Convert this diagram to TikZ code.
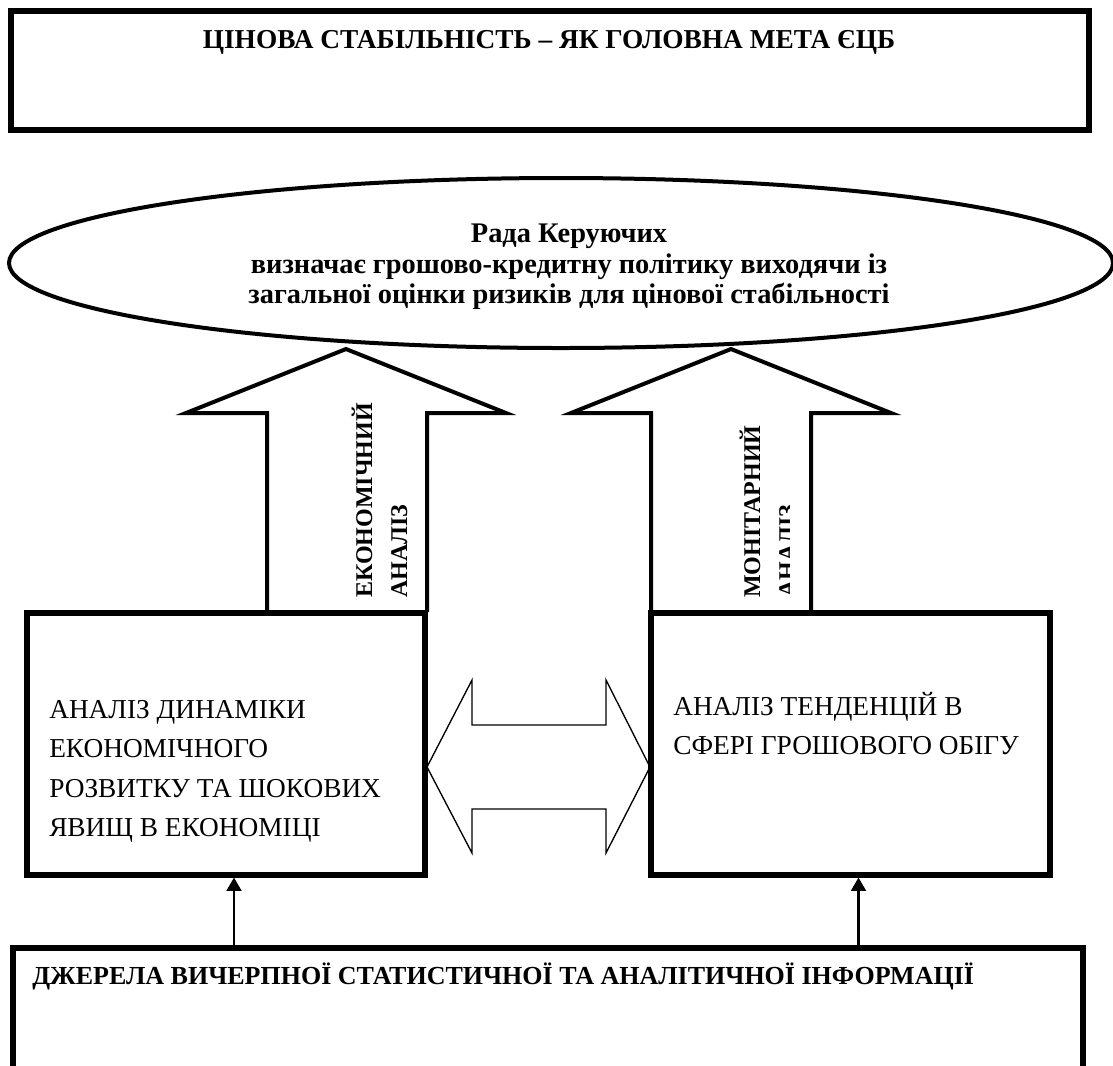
\documentclass[tikz,border=0pt]{standalone}
\usepackage{fontspec}
\setmainfont{Liberation Serif}
\usetikzlibrary{arrows.meta, shapes.geometric}

\tikzset{
    blok/.style={draw, line width=4.5pt, minimum width=299pt, minimum height=196.5pt, inner sep=0pt},
    velyka/.style={line width=3pt, line join=miter},
    strilka/.style={line width=2pt, -{Triangle[length=10pt, width=11pt]}},
    napys/.style={inner sep=0pt, font=\bfseries\fontsize{18}{20}\selectfont, rotate=90, anchor=base west},
    tekst/.style={inner sep=0pt, align=left, anchor=north west, font=\fontsize{20.5}{29.5}\selectfont},
}

\begin{document}
\begin{tikzpicture}[x=0.75pt, y=-0.75pt]
    \useasboundingbox (0, 0) rectangle (1113, 1065);
    \clip (0, 0) rectangle (1113, 1065);

    % головна мета
    \node[draw, line width=4pt, minimum width=808.5pt, minimum height=89.25pt, inner sep=0pt] (meta) at (550, 70.5) {};
    \node[inner sep=0pt, anchor=base, font=\bfseries\fontsize{20.5}{24}\selectfont] (metaT) at (549, 48) {ЦІНОВА СТАБІЛЬНІСТЬ – ЯК ГОЛОВНА МЕТА ЄЦБ};

    % рада керуючих
    \node[draw, ellipse, line width=3pt, minimum width=828pt, minimum height=127.5pt, inner sep=0pt] (rada) at (561, 263) {};
    \node[inner sep=0pt, align=center, font=\bfseries\fontsize{21.3}{23}\selectfont] (radaT) at (569, 267)
        {Рада Керуючих\\визначає грошово-кредитну політику виходячи із\\загальної оцінки ризиків для цінової стабільності};

    % блоки аналізу
    \node[blok] (ekon) at (226, 743.5) {};
    \node[blok] (monet) at (850.5, 743.5) {};
    \node[tekst] (ekonT) at (49, 700) {АНАЛІЗ ДИНАМІКИ\\ЕКОНОМІЧНОГО\\РОЗВИТКУ ТА ШОКОВИХ\\ЯВИЩ В ЕКОНОМІЦІ};
    \node[tekst] (monetT) at (673, 692) {АНАЛІЗ ТЕНДЕНЦІЙ В\\СФЕРІ ГРОШОВОГО ОБІГУ};

    % великі стрілки
    \draw[velyka] (267, 612) -- (267, 413) -- (186, 413) -- (346, 349) -- (506, 413) -- (427, 413) -- (427, 612);
    \draw[velyka] (651, 612) -- (651, 413) -- (571, 413) -- (731, 349) -- (891, 413) -- (811, 413) -- (811, 612);

    % підписи на стрілках
    \node[napys] (ekon1) at (372, 598) {ЕКОНОМІЧНИЙ};
    \node[napys] (ekon2) at (407, 598) {АНАЛІЗ};
    \node[napys] (monet1) at (760, 598) {МОНІТАРНИЙ};
    \begin{scope}
        \clip (651, 400) rectangle (789, 612);
        \node[napys] (monet2) at (795, 598) {АНАЛІЗ};
    \end{scope}

    % подвійна стрілка
    \draw[line width=1pt] (427, 767) -- (472, 680) -- (472, 725) -- (606, 725) -- (606, 680) -- (650, 767)
        -- (606, 853) -- (606, 809) -- (472, 809) -- (472, 853) -- cycle;

    % джерела інформації
    \node[draw, line width=4.5pt, minimum width=802.5pt, minimum height=114pt, inner sep=0pt] (dzherela) at (548, 1024) {};
    \node[inner sep=0pt, anchor=base west, font=\bfseries\fontsize{19.5}{22}\selectfont] (dzherelaT) at (32, 984)
        {ДЖЕРЕЛА ВИЧЕРПНОЇ СТАТИСТИЧНОЇ ТА АНАЛІТИЧНОЇ ІНФОРМАЦІЇ};

    \coordinate (vhidE) at ([xshift=6pt]ekon.south);
    \coordinate (vhidM) at ([xshift=6pt]monet.south);
    \draw[strilka] (vhidE |- dzherela.north) -- (vhidE);
    \draw[strilka] (vhidM |- dzherela.north) -- (vhidM);
\end{tikzpicture}
\end{document}
